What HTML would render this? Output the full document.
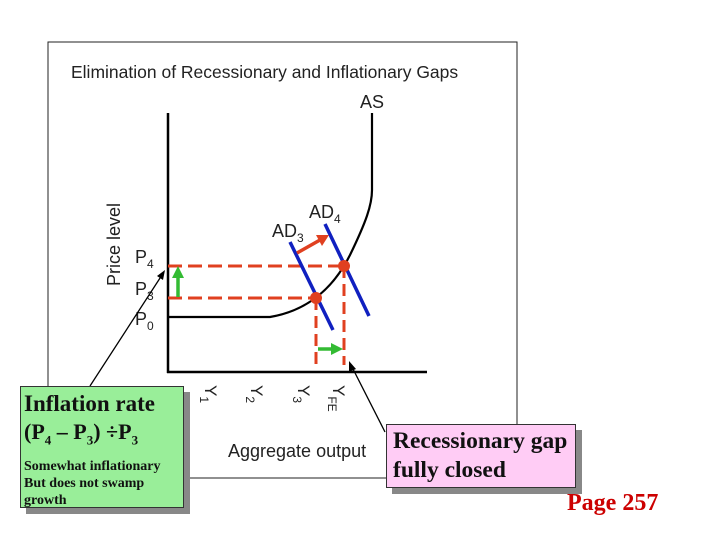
<!DOCTYPE html>
<html><head><meta charset="utf-8"><style>
body{margin:0;width:720px;height:540px;background:#fff;overflow:hidden;position:relative;font-family:"Liberation Sans",sans-serif}
svg{position:absolute;left:0;top:0}
.box{position:absolute;font-family:"Liberation Serif",serif;font-weight:bold;color:#111;border:1px solid #333;box-shadow:6px 6px 0 #888}
</style></head><body>
<svg width="720" height="540">
<rect x="48" y="42" width="469" height="436" fill="#fff" stroke="#222" stroke-width="1"/>
<text x="71" y="78" font-size="17.5" fill="#222">Elimination of Recessionary and Inflationary Gaps</text>
<g id="plot"></g>
</svg>
<div class="box" style="left:20px;top:386px;width:164px;height:122px;background:#99ee99;padding:0 0 0 3px;box-sizing:border-box;overflow:hidden">
<div style="font-size:23px;margin-top:3px;line-height:28px">Inflation rate</div>
<div style="font-size:22px;line-height:28px">(P<sub style="font-size:13px">4</sub> – P<sub style="font-size:13px">3</sub>) ÷P<sub style="font-size:13px">3</sub></div>
<div style="font-size:14px;line-height:17px;margin-top:4px;white-space:nowrap">Somewhat inflationary<br>But does not swamp<br>growth</div>
</div>
<div class="box" style="left:386px;top:424px;width:190px;height:64px;background:#ffccf5;padding:2px 0 0 6px;box-sizing:border-box;font-size:23.5px;line-height:29px;white-space:nowrap">Recessionary gap<br>fully closed</div>
<div style="position:absolute;left:567px;top:490px;font-family:'Liberation Serif',serif;font-weight:bold;color:#c00;font-size:24px">Page 257</div>
<script>
const priceLabels=["P4","P3","P0"];
const priceValues=[266,298,317];
const outputLabels=["Y1","Y2","Y3","YFE"];
const outputValues=[212,258,305,340];
const g=document.getElementById('plot');
function el(t,a){const e=document.createElementNS('http://www.w3.org/2000/svg',t);for(const k in a)e.setAttribute(k,a[k]);g.appendChild(e);return e;}
let e;
e=el('line',{x1:168,y1:113,x2:168,y2:373,stroke:'#000','stroke-width':2.5});


e=el('line',{x1:167,y1:372,x2:427,y2:372,stroke:'#000','stroke-width':2.5});


e=el('path',{d:'M168 317 L270 317 C300 312 330 295 350 255 C366 222 372 205 372 190 L372 113',fill:'none',stroke:'#000','stroke-width':2.2});


e=el('text',{x:360,y:108,'font-size':18,fill:'#222'});e.textContent='AS';


e=el('line',{x1:168,y1:266,x2:344,y2:266,stroke:'#e04020','stroke-width':3,'stroke-dasharray':'14 6'});


e=el('line',{x1:168,y1:298,x2:316,y2:298,stroke:'#e04020','stroke-width':3,'stroke-dasharray':'14 6'});


e=el('line',{x1:316,y1:298,x2:316,y2:370,stroke:'#e04020','stroke-width':3,'stroke-dasharray':'12 6'});


e=el('line',{x1:344,y1:266,x2:344,y2:365,stroke:'#e04020','stroke-width':3,'stroke-dasharray':'12 6'});


e=el('line',{x1:290,y1:242,x2:333,y2:330,stroke:'#1020c0','stroke-width':3.5});


e=el('line',{x1:325,y1:224,x2:369,y2:316,stroke:'#1020c0','stroke-width':3.5});


e=el('circle',{cx:316,cy:298,r:6,fill:'#e04020'});


e=el('circle',{cx:344,cy:266,r:6,fill:'#e04020'});


e=el('line',{x1:297,y1:253,x2:320,y2:240,stroke:'#e04020','stroke-width':3.5});


e=el('polygon',{points:'329,235 316,235 322,246',fill:'#e04020'});


e=el('line',{x1:178,y1:297,x2:178,y2:276,stroke:'#33bb33','stroke-width':3.5});


e=el('polygon',{points:'178,266 172,278 184,278',fill:'#33bb33'});


e=el('line',{x1:318,y1:349,x2:333,y2:349,stroke:'#33bb33','stroke-width':3.5});


e=el('polygon',{points:'343,349 331,343 331,355',fill:'#33bb33'});


e=el('text',{x:272,y:237,'font-size':18,fill:'#222'});e.innerHTML='AD<tspan font-size="12" dy="5">3</tspan>';


e=el('text',{x:309,y:218,'font-size':18,fill:'#222'});e.innerHTML='AD<tspan font-size="12" dy="5">4</tspan>';


priceLabels.forEach((l,i)=>{const v=priceValues[i];const y=(i===2)?v+8:v-3;const t=el('text',{x:135,y:y,'font-size':18,fill:'#222'});t.innerHTML=l[0]+'<tspan font-size="12" dy="5">'+l.slice(1)+'</tspan>';

});
outputLabels.forEach((l,i)=>{const x=outputValues[i];const t=el('text',{x:0,y:0,'font-size':17,fill:'#222',transform:'translate('+(x-7)+',385) rotate(90)'});t.innerHTML='Y<tspan font-size="12" dy="5">'+l.slice(1)+'</tspan>';

});
e=el('text',{x:0,y:0,'font-size':18,fill:'#222',transform:'translate(120,286) rotate(-90)'});e.textContent='Price level';


e=el('text',{x:228,y:457,'font-size':18,fill:'#222'});e.textContent='Aggregate output';


e=el('line',{x1:90,y1:386,x2:162,y2:275,stroke:'#000','stroke-width':1.3});


e=el('polygon',{points:'165,270 157,276 163,280',fill:'#000'});


e=el('line',{x1:385,y1:432,x2:352,y2:367,stroke:'#000','stroke-width':1.3});


e=el('polygon',{points:'349,361 349,372 356,369',fill:'#000'});


</script>
</body></html>
